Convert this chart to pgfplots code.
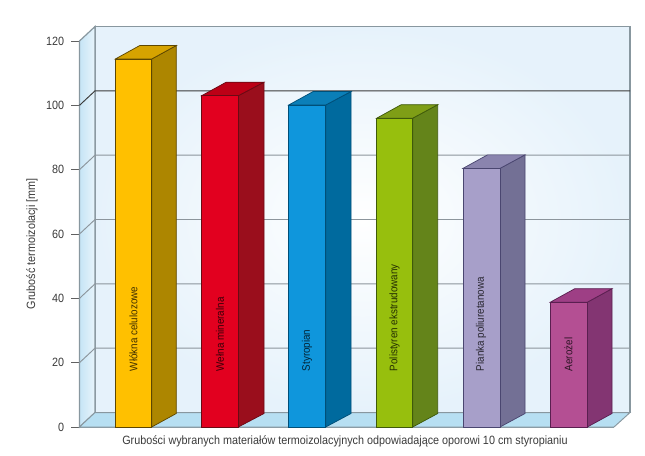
\documentclass[border=0pt]{standalone}
\usepackage{fontspec}
\setmainfont[FakeStretch=0.9]{Liberation Sans}
\usepackage{pgfplots}
\pgfplotsset{compat=1.18}
\definecolor{ink}{HTML}{3A3A3A}
\definecolor{wallgrid}{HTML}{8C959C}
\definecolor{walledge}{HTML}{88979F}
\definecolor{wallback}{HTML}{E6F2FB}
\definecolor{wallleftA}{HTML}{C6E4F6}
\definecolor{wallleftB}{HTML}{E8F4FB}
\definecolor{floorc}{HTML}{B7DFF2}
\definecolor{one}{HTML}{FFC000}\definecolor{oneS}{HTML}{AD8600}\definecolor{oneT}{HTML}{D6A300}\definecolor{oneE}{HTML}{5E4700}
\definecolor{two}{HTML}{E2001F}\definecolor{twoS}{HTML}{9A0E1C}\definecolor{twoT}{HTML}{BC0016}\definecolor{twoE}{HTML}{6A0A14}
\definecolor{three}{HTML}{0F96DC}\definecolor{threeS}{HTML}{006A9E}\definecolor{threeT}{HTML}{0B7FB8}\definecolor{threeE}{HTML}{004F78}
\definecolor{four}{HTML}{97BF0D}\definecolor{fourS}{HTML}{64841A}\definecolor{fourT}{HTML}{7F9E16}\definecolor{fourE}{HTML}{3F5A0A}
\definecolor{five}{HTML}{A79FC9}\definecolor{fiveS}{HTML}{737095}\definecolor{fiveT}{HTML}{8A84AE}\definecolor{fiveE}{HTML}{4A4670}
\definecolor{six}{HTML}{B44F93}\definecolor{sixS}{HTML}{833572}\definecolor{sixT}{HTML}{9E3F85}\definecolor{sixE}{HTML}{5A1F50}

% x0, x1, side x, back-left x, height, back height, colour name
\newcommand{\barthree}[7]{
  \addplot[fill=#7S, draw=#7E, line width=0.55pt] coordinates {(#2,0) (#3,4.2) (#3,#6) (#2,#5)} --cycle;
  \addplot[fill=#7T, draw=#7E, line width=0.55pt] coordinates {(#1,#5) (#2,#5) (#3,#6) (#4,#6)} --cycle;
  \addplot[fill=#7, draw=#7E, line width=0.55pt] coordinates {(#1,0) (#1,#5) (#2,#5) (#2,0)} --cycle;
}
\newcommand{\gridl}[3]{
  \addplot[#3, line width=0.7pt] coordinates {(79.5,#1) (95,#2) (630,#2)};
}

\begin{document}
\begin{tikzpicture}
\useasboundingbox (-59.625pt,-21pt) rectangle (424.125pt,320.25pt);
\begin{axis}[
  scale only axis, width=400.875pt, height=289.5pt,
  xmin=79.5, xmax=614, ymin=0, ymax=120,
  clip=false,
  axis y line*=left, axis x line*=bottom,
  axis line style={draw=walledge, line width=0.7pt},
  xtick=\empty,
  ytick={0,20,40,60,80,100,120},
  tick align=outside, major tick length=6pt,
  tick style={draw=ink!80, line width=0.5pt},
  tick label style={font=\fontsize{9}{10}\selectfont, text=ink},
  /pgf/number format/assume math mode=true,
  yticklabel style={xshift=-2pt},
  xlabel={Grubości wybranych materiałów termoizolacyjnych odpowiadające oporowi 10 cm styropianiu},
  ylabel={Grubość termoizolacji [mm]},
  every axis x label/.style={at={(axis cs:345,-4.35)}, anchor=center, font=\fontsize{9}{10}\selectfont, text=ink},
  every axis y label/.style={at={(axis cs:32,57)}, anchor=center, rotate=90, font=\fontsize{9}{10}\selectfont, text=ink},
]
% walls and floor
\addplot[draw=walledge, line width=0.9pt, inner color=white, outer color=wallback] coordinates {(95,4.5) (95,124.5) (630,124.5) (630,4.5)} --cycle;
\addplot[draw=walledge, line width=0.9pt, left color=wallleftA, right color=wallleftB] coordinates {(79.5,0) (95,4.5) (95,124.5) (79.5,120)} --cycle;
\addplot[fill=floorc, draw=walledge, line width=0.7pt] coordinates {(79.5,0) (95,4.5) (630,4.5) (614,0)} --cycle;
% grid on the walls
\gridl{20}{24.5}{wallgrid}
\gridl{40}{44.5}{wallgrid}
\gridl{60}{64.5}{wallgrid}
\gridl{80}{84.5}{wallgrid}
\gridl{100}{104.5}{ink}
% bars
\barthree{115.3}{151.7}{176.3}{139.8}{114.4}{118.6}{one}
\barthree{201.7}{238.3}{264}{226.2}{103}{107.2}{two}
\barthree{288.7}{325.7}{351}{313.2}{100.1}{104.3}{three}
\barthree{376.7}{412.7}{437.7}{401.2}{96}{100.2}{four}
\barthree{463}{500}{525}{487.5}{80.4}{84.6}{five}
\barthree{550.3}{587.3}{612}{574.8}{38.8}{43}{six}
% names on the bars
\node[rotate=90, anchor=west, font=\fontsize{8.2}{9}\selectfont, text=black!75!one] at (axis cs:133.5,15.9) {Włókna celulozowe};
\node[rotate=90, anchor=west, font=\fontsize{8.2}{9}\selectfont, text=black!75!two] at (axis cs:220,15.9) {Wełna mineralna};
\node[rotate=90, anchor=west, font=\fontsize{8.2}{9}\selectfont, text=black!75!three] at (axis cs:307,15.9) {Styropian};
\node[rotate=90, anchor=west, font=\fontsize{8.2}{9}\selectfont, text=black!75!four] at (axis cs:394.5,15.9) {Polistyren ekstrudowany};
\node[rotate=90, anchor=west, font=\fontsize{8.2}{9}\selectfont, text=black!75!five] at (axis cs:481,15.9) {Pianka poliuretanowa};
\node[rotate=90, anchor=west, font=\fontsize{8.2}{9}\selectfont, text=black!75!six] at (axis cs:568.5,15.9) {Aerożel};
\end{axis}
\end{tikzpicture}
\end{document}
